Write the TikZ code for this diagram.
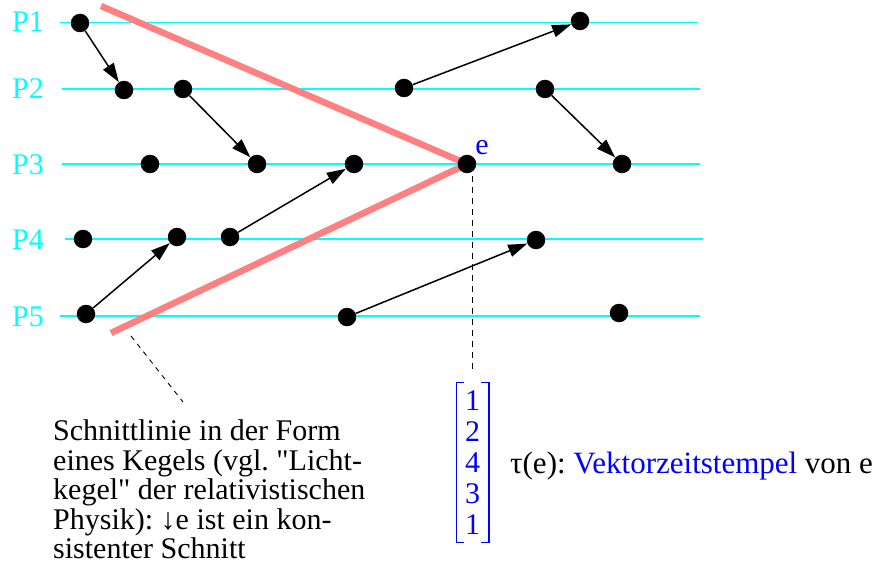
\documentclass[tikz,border=0pt]{standalone}
\usepackage{fontspec}
\setmainfont{Liberation Serif}
\usetikzlibrary{arrows.meta}
\definecolor{procline}{RGB}{0,255,255}
\definecolor{cutred}{RGB}{255,128,128}
\definecolor{vblue}{RGB}{0,0,255}
\pgfdeclarelayer{background}
\pgfsetlayers{background,main}
\frenchspacing
\begin{document}
\begin{tikzpicture}[x=1pt,y=-1pt,
  dot/.style={circle, fill=black, inner sep=0pt, minimum size=18.5pt},
  msg/.style={-{Triangle[length=19pt,width=12.5pt]}, line width=1.5pt},
  proc/.style={draw=procline, line width=1.5pt},
  plabel/.style={text=procline, anchor=base west, inner sep=0pt, font=\fontsize{30}{30}\selectfont},
  cut/.style={draw=cutred, line width=6.5pt, line join=miter},
  leader/.style={draw=black, line width=1pt, dash pattern=on 6pt off 5pt},
  bigtext/.style={font=\fontsize{30}{29.5}\selectfont},
  vecnode/.style={text=vblue, align=center, inner xsep=8.5pt, inner ysep=8pt, font=\fontsize{30}{31}\selectfont},
  bracket/.style={draw=vblue, line width=1.6pt}
]
\useasboundingbox (0,0) rectangle (874,564);

% process labels
\node[plabel] (p1) at (12,32) {P1};
\node[plabel] (p2) at (12,99) {P2};
\node[plabel] (p3) at (12,174) {P3};
\node[plabel] (p4) at (12,249) {P4};
\node[plabel] (p5) at (12,326) {P5};

% events
\node[dot] (a1) at (80,23) {};
\node[dot] (a2) at (580,21) {};
\node[dot] (b1) at (124,90) {};
\node[dot] (b2) at (183,89) {};
\node[dot] (b3) at (404,88) {};
\node[dot] (b4) at (545,89) {};
\node[dot] (c1) at (150,164) {};
\node[dot] (c2) at (257,164) {};
\node[dot] (c3) at (354,164) {};
\node[dot] (e)  at (467,164) {};
\node[dot] (c5) at (622,164) {};
\node[dot] (d1) at (83,239) {};
\node[dot] (d2) at (177,237) {};
\node[dot] (d3) at (230,237) {};
\node[dot] (d4) at (536,240) {};
\node[dot] (f1) at (86,314) {};
\node[dot] (f2) at (347,317) {};
\node[dot] (f3) at (619,313) {};

\node[text=vblue, anchor=base, inner sep=0pt, font=\fontsize{30}{30}\selectfont] (elab) at (482,154) {e};

% process lines and cut on background
\coordinate (l1a) at (60,22.5);  \coordinate (l1b) at (698,22.5);
\coordinate (l2a) at (62,89);    \coordinate (l2b) at (700,89);
\coordinate (l3a) at (62,164);   \coordinate (l3b) at (700,164);
\coordinate (l4a) at (65,239);   \coordinate (l4b) at (703,239);
\coordinate (l5a) at (60,316);   \coordinate (l5b) at (700,316);
\coordinate (r1) at (101,6);
\coordinate (r2) at (111,333);
\begin{pgfonlayer}{background}
  \draw[proc] (l1a) -- (l1b);
  \draw[proc] (l2a) -- (l2b);
  \draw[proc] (l3a) -- (l3b);
  \draw[proc] (l4a) -- (l4b);
  \draw[proc] (l5a) -- (l5b);
  \draw[cut] (r1) -- (e.center) -- (r2);
\end{pgfonlayer}

% messages
\draw[msg] (a1) -- (b1);
\draw[msg] (b2) -- (c2);
\draw[msg] (b3) -- (a2);
\draw[msg] (b4) -- (c5);
\draw[msg] (d3) -- (c3);
\draw[msg] (f1) -- (d2);
\draw[msg] (f2) -- (d4);

% vector timestamp
\node[vecnode] (vec) at (472.5,462.5) {1\\2\\4\\3\\1};
\draw[bracket] ([xshift=8pt]vec.north west) -- (vec.north west) -- (vec.south west) -- ([xshift=8pt]vec.south west);
\draw[bracket] ([xshift=-8pt]vec.north east) -- (vec.north east) -- (vec.south east) -- ([xshift=-8pt]vec.south east);
\draw[leader] ([yshift=-3pt]e.south -| vec.north) -- ([yshift=10pt]vec.north);

\node[font=\fontsize{31}{31}\selectfont, anchor=base west, inner sep=0pt] (tau) at (510,473) {τ(e): \textcolor{vblue}{Vektorzeitstempel} von e};

% note
\node[bigtext, anchor=north west, align=left, inner sep=0pt] (note) at (53,419.5)
  {Schnittlinie in der Form\\eines Kegels (vgl. \textquotedbl Licht-\\kegel\textquotedbl{} der relativistischen\\Physik): ↓e ist ein kon-\\sistenter Schnitt};
\coordinate (conetip) at (131,336);
\coordinate (notetip) at (183,402);
\draw[leader, line width=0.9pt, dash pattern=on 5pt off 5pt] (conetip) -- (notetip);
\end{tikzpicture}
\end{document}
